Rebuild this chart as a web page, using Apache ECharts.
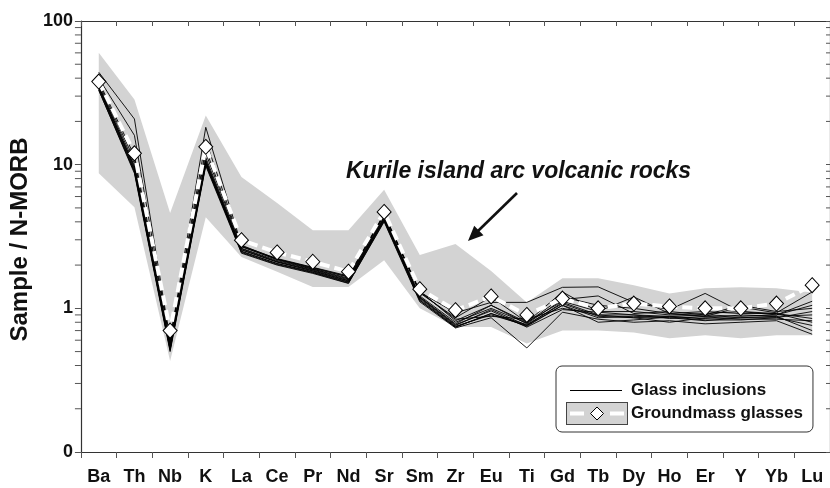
<!DOCTYPE html>
<html>
<head>
<meta charset="utf-8">
<script src="https://cdn.jsdelivr.net/npm/echarts@6/dist/echarts.min.js"></script>
<style>
html,body{margin:0;padding:0;background:#fff;}
#chart{width:830px;height:488px;}
</style>
</head>
<body>
<div id="chart"></div>
<script>
const categories = ['Ba','Th','Nb','K','La','Ce','Pr','Nd','Sr','Sm','Zr','Eu','Ti','Gd','Tb','Dy','Ho','Er','Y','Yb','Lu'];
const yTickValues = [0.1, 1, 10, 100];
const yTickLabels = ['0', '1', '10', '100'];
const minorTickValues = [0.2,0.3,0.4,0.5,0.6,0.7,0.8,0.9,2,3,4,5,6,7,8,9,20,30,40,50,60,70,80,90];

// Kurile island arc volcanic rocks field (envelope)
const fieldUpper = [60, 28.4, 4.6, 22, 8.2, 5.4, 3.5, 3.5, 6.7, 2.35, 2.8, 1.82, 1.1, 1.62, 1.62, 1.45, 1.27, 1.38, 1.4, 1.38, 1.29];
const fieldLower = [8.7, 5.05, 0.43, 4.3, 2.28, 1.8, 1.41, 1.41, 2.16, 1.0, 0.74, 0.74, 0.57, 0.70, 0.70, 0.68, 0.62, 0.65, 0.62, 0.65, 0.65];

// Groundmass glasses
const groundmass = [37.9, 12.0, 0.70, 13.3, 2.98, 2.45, 2.11, 1.80, 4.69, 1.36, 0.97, 1.21, 0.90, 1.17, 1.0, 1.08, 1.03, 1.0, 1.0, 1.08, 1.45];

// Glass inclusions
const inc1  = [44, 20.8, 0.6, 18.2, 2.75, 2.2, 1.9, 1.65, 4.5, 1.3, 0.93, 1.1, 1.1, 1.4, 1.41, 1.1, 0.98, 1.27, 0.95, 0.92, 0.85];
const inc2  = [40, 16, 0.58, 14.8, 2.7, 2.18, 1.88, 1.62, 4.45, 1.28, 0.86, 1.2, 0.8, 1.3, 0.95, 1.2, 0.92, 0.88, 1.02, 0.93, 1.3];
const inc3  = [35, 9.6, 0.53, 10.4, 2.55, 2.1, 1.82, 1.55, 4.2, 1.18, 0.76, 0.98, 0.76, 1.1, 0.9, 0.9, 0.88, 0.85, 0.9, 0.88, 0.7];
const inc4  = [34, 9.0, 0.51, 10.0, 2.5, 2.05, 1.78, 1.52, 4.1, 1.14, 0.74, 0.92, 0.75, 1.05, 0.86, 0.88, 0.86, 0.82, 0.86, 0.86, 0.95];
const inc5  = [35, 9.4, 0.55, 10.8, 2.6, 2.12, 1.85, 1.58, 4.3, 1.2, 0.78, 1.05, 0.78, 1.15, 1.22, 0.92, 0.95, 0.9, 0.88, 0.9, 1.12];
const inc6  = [33, 8.7, 0.5, 9.8, 2.42, 2.0, 1.75, 1.49, 4.0, 1.11, 0.73, 0.86, 0.53, 0.94, 0.84, 0.8, 0.82, 0.78, 0.8, 0.82, 0.66];
const inc7  = [36, 10.2, 0.56, 11.2, 2.62, 2.15, 1.87, 1.6, 4.35, 1.22, 0.8, 1.0, 0.79, 1.2, 1.05, 1.0, 0.92, 0.95, 0.92, 0.92, 0.8];
const inc8  = [37, 10.8, 0.6, 12.0, 2.68, 2.2, 1.92, 1.66, 4.5, 1.3, 0.84, 0.88, 0.84, 1.0, 0.9, 0.86, 0.88, 0.9, 1.05, 0.95, 1.0];
const inc9  = [34, 9.2, 0.52, 10.3, 2.48, 2.05, 1.8, 1.53, 4.15, 1.16, 0.75, 0.9, 0.76, 1.05, 0.8, 0.83, 0.87, 0.83, 0.83, 0.86, 0.76];
const inc10 = [35, 9.8, 0.54, 10.6, 2.56, 2.1, 1.83, 1.56, 4.25, 1.19, 0.77, 0.96, 0.74, 0.98, 0.94, 0.9, 0.85, 0.88, 0.86, 0.88, 0.9];
const inc11 = [33, 8.9, 0.52, 10.1, 2.45, 2.02, 1.77, 1.5, 4.05, 1.13, 0.74, 0.92, 0.77, 1.08, 0.88, 0.86, 0.8, 0.86, 0.84, 0.84, 0.82];
const inc12 = [38, 11.5, 0.62, 12.8, 2.72, 2.22, 1.93, 1.68, 4.55, 1.32, 0.82, 1.05, 0.8, 1.12, 0.95, 0.95, 0.9, 0.92, 0.95, 0.9, 1.05];
const inclusions = [inc1, inc2, inc3, inc4, inc5, inc6, inc7, inc8, inc9, inc10, inc11, inc12];

const FONT = "'Liberation Sans', Arial, Helvetica, sans-serif";
const AXIS_COLOR = '#333';
const TICK_COLOR = '#555';

const iconLine = 'image://data:image/svg+xml;charset=utf-8,' + encodeURIComponent(
  "<svg xmlns='http://www.w3.org/2000/svg' width='62' height='23'><line x1='4' y1='11.5' x2='56' y2='11.5' stroke='#000' stroke-width='1.2'/></svg>");
const iconGround = 'image://data:image/svg+xml;charset=utf-8,' + encodeURIComponent(
  "<svg xmlns='http://www.w3.org/2000/svg' width='62' height='23'><rect x='0.5' y='0.5' width='61' height='22' fill='#d3d3d3' stroke='#444' stroke-width='1'/>" +
  "<line x1='4' y1='11.5' x2='18' y2='11.5' stroke='#fff' stroke-width='4'/><line x1='44' y1='11.5' x2='58' y2='11.5' stroke='#fff' stroke-width='4'/>" +
  "<path d='M31 5 L37.5 11.5 L31 18 L24.5 11.5 Z' fill='#fff' stroke='#000' stroke-width='1'/></svg>");

const chart = echarts.init(document.getElementById('chart'), null, {renderer: 'canvas'});

const series = [];
series.push({
  name: 'fieldLow', type: 'line', stack: 'field', data: fieldLower,
  symbol: 'none', lineStyle: {opacity: 0}, silent: true, z: 1
});
series.push({
  name: 'Kurile island arc volcanic rocks', type: 'line', stack: 'field',
  data: fieldUpper.map((u, i) => u - fieldLower[i]),
  symbol: 'none', lineStyle: {opacity: 0}, areaStyle: {color: '#d3d3d3', opacity: 1}, silent: true, z: 1
});
inclusions.forEach(arr => {
  series.push({
    name: 'Glass inclusions', type: 'line', data: arr, symbol: 'none',
    lineStyle: {color: '#000', width: 0.9}, silent: true, z: 3
  });
});
series.push({
  name: 'Groundmass glasses', type: 'line', data: groundmass,
  symbol: 'diamond', symbolSize: [14, 15],
  itemStyle: {color: '#fff', borderColor: '#000', borderWidth: 1},
  lineStyle: {color: '#fff', width: 4, type: [10, 5]}, silent: true, z: 4
});
series.push({
  name: 'minorTicks', type: 'custom', xAxisIndex: 0, yAxisIndex: 0, silent: true, z: 5,
  data: minorTickValues.map(v => [0, v]),
  renderItem: function (params, api) {
    const y = api.coord([0, api.value(1)])[1];
    const cs = params.coordSys;
    return {
      type: 'group',
      children: [
        {type: 'line', shape: {x1: cs.x - 6, y1: y, x2: cs.x, y2: y}, style: {stroke: TICK_COLOR, lineWidth: 1}},
        {type: 'line', shape: {x1: cs.x + cs.width - 4, y1: y, x2: cs.x + cs.width, y2: y}, style: {stroke: TICK_COLOR, lineWidth: 1}}
      ]
    };
  }
});

const yFormatter = v => {
  for (let i = 0; i < yTickValues.length; i++) {
    if (Math.abs(Math.log10(v) - Math.log10(yTickValues[i])) < 1e-6) return yTickLabels[i];
  }
  return '';
};

const option = {
  animation: false,
  backgroundColor: '#fff',
  grid: {left: 78, top: 21, width: 755, bottom: 36, containLabel: false},
  xAxis: [{
    type: 'category', data: categories, position: 'bottom', boundaryGap: true,
    axisLine: {show: true, lineStyle: {color: AXIS_COLOR, width: 1.2}},
    axisTick: {show: true, inside: false, length: 6, interval: 0, lineStyle: {color: TICK_COLOR}},
    axisLabel: {interval: 0, margin: 16, fontFamily: FONT, fontSize: 18, fontWeight: 'bold', color: '#111'},
    splitLine: {show: false}
  }, {
    type: 'category', data: categories, position: 'top', boundaryGap: true,
    axisLine: {show: true, lineStyle: {color: AXIS_COLOR, width: 1.2}},
    axisTick: {show: true, inside: true, length: 5, interval: 0, lineStyle: {color: TICK_COLOR}},
    axisLabel: {show: false}, splitLine: {show: false}
  }],
  yAxis: [{
    type: 'log', logBase: 10, min: 0.1, max: 100, position: 'left',
    name: 'Sample / N-MORB', nameLocation: 'middle', nameGap: 36,
    nameTextStyle: {fontFamily: FONT, fontSize: 24, fontWeight: 'bold', color: '#111', padding: [0, 6, 0, 0]},
    axisLine: {show: true, lineStyle: {color: AXIS_COLOR, width: 1.2}},
    axisTick: {show: true, inside: false, length: 6, lineStyle: {color: TICK_COLOR}},
    axisLabel: {formatter: yFormatter, margin: 8, fontFamily: FONT, fontSize: 18, fontWeight: 'bold', color: '#111'},
    splitLine: {show: false}, minorTick: {show: false}
  }, {
    type: 'log', logBase: 10, min: 0.1, max: 100, position: 'right',
    axisLine: {show: true, lineStyle: {color: AXIS_COLOR, width: 1.2}},
    axisTick: {show: true, inside: true, length: 4, lineStyle: {color: TICK_COLOR}},
    axisLabel: {show: false}, splitLine: {show: false}
  }],
  legend: {
    orient: 'vertical', left: 556, top: 366,
    padding: [13, 10, 7, 10], itemGap: 0, itemWidth: 62, itemHeight: 23,
    backgroundColor: '#fff', borderColor: '#333', borderWidth: 1, borderRadius: 6,
    selectedMode: false,
    textStyle: {fontFamily: FONT, fontSize: 17, fontWeight: 'bold', color: '#111', padding: [0, 0, 0, -2]},
    data: [
      {name: 'Glass inclusions', icon: iconLine},
      {name: 'Groundmass glasses', icon: iconGround}
    ]
  },
  graphic: [
    {
      type: 'text', left: 346, top: 160, z: 10,
      style: {text: 'Kurile island arc volcanic rocks', fontFamily: FONT, fontSize: 23,
        fontWeight: 'bold', fontStyle: 'italic', fill: '#111'}
    },
    {
      type: 'line', z: 10,
      shape: {x1: 517, y1: 193, x2: 478, y2: 231},
      style: {stroke: '#111', lineWidth: 2.6}
    },
    {
      type: 'polygon', z: 10,
      shape: {points: [[468, 241], [483.5, 235.2], [474.2, 225.8]]},
      style: {fill: '#111'}
    }
  ],
  series: series
};

chart.setOption(option);
</script>
</body>
</html>
